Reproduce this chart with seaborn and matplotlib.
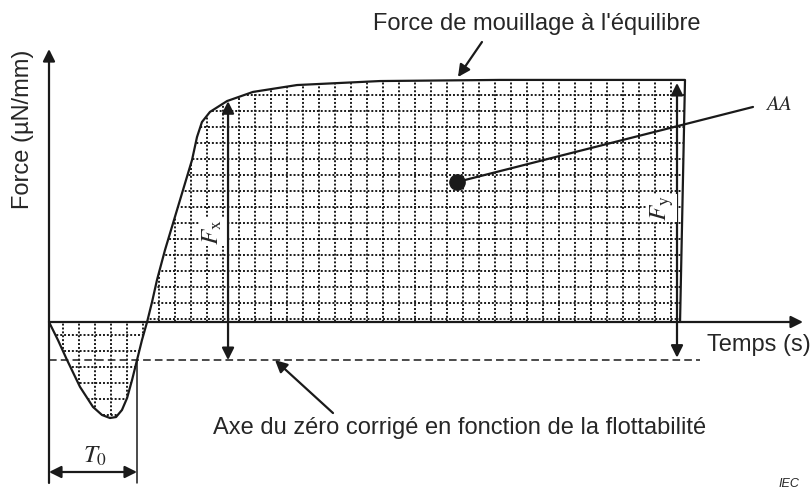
import matplotlib
matplotlib.use('Agg')
import matplotlib.pyplot as plt
from matplotlib.patches import Polygon
import seaborn as sns
import numpy as np

# wetting curve, in grid units (1 unit = one square of the hatch)
time = [0, 0.56, 1.13, 1.94, 2.75, 3.31, 3.81, 4.19, 4.56, 4.88, 5.19, 5.5, 5.81,
        6.13, 6.44, 6.75, 7.25, 8.94, 9.25, 9.56, 10.06, 11.13, 12.75, 15.5,
        20.69, 28.19, 39.75, 39.44]
force = [0, -1.13, -2.38, -4.06, -5.31, -5.81, -6.0, -5.94, -5.5, -4.75, -3.63, -2.38, -1.13,
         0, 1.25, 2.63, 4.5, 10.13, 11.56, 12.5, 13.13, 13.81, 14.38, 14.81,
         15.06, 15.13, 15.13, 0]

zero_corr = -2.38      # buoyancy corrected zero
t0_end = 5.5           # where the trace crosses the corrected zero
fx_time = 11.19
fy_time = 39.25
aa_point = (25.5, 8.75)
aa_label = (44.0, 13.44)

sns.set_theme(style='white')
plt.rcParams['font.family'] = ['Liberation Sans', 'DejaVu Sans']
plt.rcParams['mathtext.fontset'] = 'stix'

fig = plt.figure(figsize=(8.11, 4.88), dpi=100)
ax = fig.add_axes([0, 0, 1, 1])
ax.set_xlim(-3.0625, 47.625)
ax.set_ylim(-10.375, 20.125)
ax.axis('off')

LW = 1.6
FS = 17

# dotted grid inside the area under the curve
poly = Polygon(list(zip(time, force)), closed=True, fc='none', ec='none')
ax.add_patch(poly)
dots = (0, (1, 1))
vl = ax.vlines(np.arange(0.875, 41, 1), -8, 17, colors='k', linestyles=dots, lw=1.4)
hl = ax.hlines(np.arange(-6.8125, 16, 1), -1, 41, colors='k', linestyles=dots, lw=1.4)
vl.set_clip_path(poly)
hl.set_clip_path(poly)

# the curve
sns.lineplot(x=time, y=force, sort=False, estimator=None, color='k', lw=LW, ax=ax)

def arrow(tail, tip, style='-|>'):
    ax.annotate('', xy=tip, xytext=tail,
                arrowprops=dict(arrowstyle=style, color='k', lw=LW, shrinkA=0, shrinkB=0,
                                mutation_scale=18))

# axes
arrow((0, -10.06), (0, 17.06))
arrow((0, 0), (47.125, 0))

# corrected zero
ax.plot([0, 40.69], [zero_corr, zero_corr], color='k', lw=1.1, ls=(0, (5, 2.7)))

# T0
ax.plot([t0_end, t0_end], [zero_corr, -10.06], color='k', lw=1.1)
arrow((0, -9.375), (t0_end, -9.375), '<|-|>')
ax.text(2.875, -8.35, r'$T_0$', fontsize=18, ha='center', va='center')

# Fx, Fy
arrow((fx_time, zero_corr), (fx_time, 13.8), '<|-|>')
arrow((fy_time, zero_corr + 0.15), (fy_time, 14.94), '<|-|>')
ax.text(10.19, 5.625, r'$F_{\mathrm{x}}$', fontsize=18, rotation=90, ha='center', va='center',
        bbox=dict(fc='white', ec='none', pad=1))
ax.text(38.31, 7.125, r'$F_{\mathrm{y}}$', fontsize=18, rotation=90, ha='center', va='center',
        bbox=dict(fc='white', ec='none', pad=1))

# area AA
ax.plot([aa_point[0], aa_label[0]], [aa_point[1], aa_label[1]], color='k', lw=LW)
ax.plot(*aa_point, 'o', color='k', ms=11)
ax.text(44.75, 13.6, r'$AA$', fontsize=15, ha='left', va='center')

# labels
ax.text(40.69, 18.625, "Force de mouillage à l'équilibre", fontsize=FS, ha='right', va='center')
arrow((27.06, 17.5), (25.56, 15.31))
ax.text(25.69, -6.625, 'Axe du zéro corrigé en fonction de la flottabilité', fontsize=FS,
        ha='center', va='center')
arrow((17.75, -5.69), (14.125, zero_corr))
ax.text(41.1, -1.44, 'Temps (s)', fontsize=FS, ha='left', va='center')
ax.text(-1.63, 17.0, 'Force (µN/mm)', fontsize=FS, rotation=90, ha='center', va='top')
ax.text(46.9, -10.1, 'IEC', fontsize=9, style='italic', ha='right', va='center')

fig.savefig('out.png', dpi=100)
